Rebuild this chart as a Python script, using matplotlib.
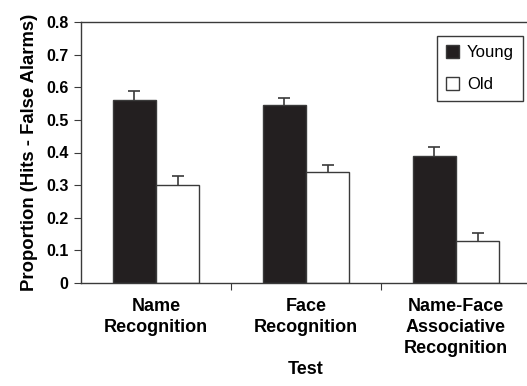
import numpy as np
import matplotlib
matplotlib.use("Agg")
from matplotlib import pyplot as plt

plt.rcParams['font.family'] = ['Liberation Sans', 'DejaVu Sans']

tests = ["Name\nRecognition", "Face\nRecognition", "Name-Face\nAssociative\nRecognition"]
young = [0.56, 0.545, 0.39]
young_err = [0.03, 0.021, 0.026]
old = [0.30, 0.34, 0.13]
old_err = [0.027, 0.022, 0.022]

fig = plt.figure(figsize=(5.27, 3.86), dpi=100)
ax = fig.add_axes([81/527, (386-283)/386, 450/527, 261/386])

x = np.arange(len(tests))
w = 0.287
ec = '#3a3a3a'
# error bars first, bars on top so only the upper whisker shows
for xs, ys, es in [(x - w/2, young, young_err), (x + w/2, old, old_err)]:
    eb = ax.errorbar(xs, ys, yerr=[np.zeros(3), es], fmt='none',
                     ecolor=ec, elinewidth=1.2, capsize=4, capthick=1.2, zorder=1)
    eb[1][0].set_visible(False)  # no lower cap
ax.bar(x - w/2, young, w, color='#231f20', edgecolor=ec, linewidth=1,
       label='Young', zorder=2)
ax.bar(x + w/2, old, w, color='white', edgecolor=ec, linewidth=1,
       label='Old', zorder=2)

ax.set_xlim(-0.5, 2.5)
ax.set_ylim(0, 0.8)
ax.set_yticks(np.arange(0, 0.81, 0.1))
ax.set_yticklabels(['0'] + ['%.1f' % v for v in np.arange(0.1, 0.81, 0.1)],
                   fontsize=11.5, fontweight='bold')
ax.set_xticks([0.5, 1.5])
ax.set_xticklabels([])
ax.set_xticks(x, minor=True)
ax.set_xticklabels(tests, minor=True, fontsize=13, fontweight='bold', linespacing=1.3)
ax.tick_params(axis='x', which='minor', length=0, pad=11)
ax.tick_params(axis='x', which='major', length=5, direction='out', color=ec)
ax.tick_params(axis='y', length=5, direction='out', color=ec, pad=4)

ax.spines['right'].set_visible(False)
for s in ['left', 'bottom', 'top']:
    ax.spines[s].set_color(ec)
    ax.spines[s].set_linewidth(1)

ax.set_ylabel("Proportion (Hits - False Alarms)", fontsize=13.3, fontweight='bold', labelpad=6)
ax.set_xlabel("Test", fontsize=13, fontweight='bold', labelpad=3)

leg = ax.legend(loc='upper right', bbox_to_anchor=((523-81)/450, (283-36)/261),
                fontsize=12, fancybox=False, framealpha=1, edgecolor=ec,
                handlelength=0.8, handleheight=0.8, handletextpad=0.45,
                borderpad=0.55, labelspacing=1.0, borderaxespad=0)
leg.get_frame().set_linewidth(1)

fig.savefig("out.png", dpi=100)
